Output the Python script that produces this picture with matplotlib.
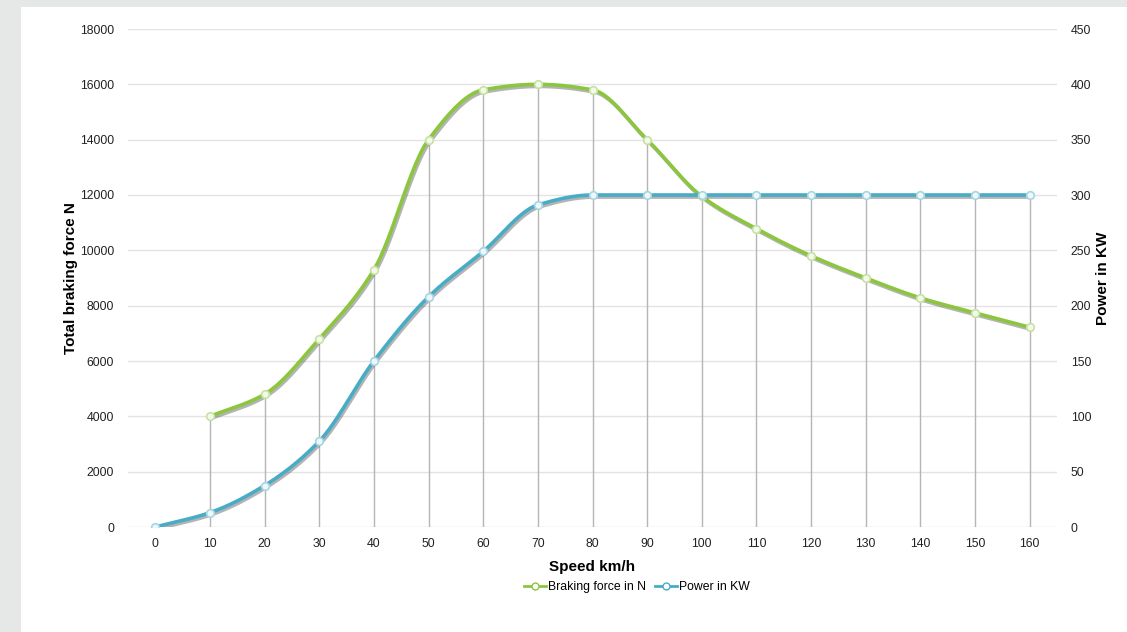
import numpy as np
import matplotlib.pyplot as plt
import matplotlib.patheffects as pe
from matplotlib.patches import Rectangle

plt.rcParams['font.family'] = ['Liberation Sans', 'DejaVu Sans']

# data
speed = [0, 10, 20, 30, 40, 50, 60, 70, 80, 90, 100, 110, 120, 130, 140, 150, 160]
force_speed = speed[1:]
force_n = [4000, 4800, 6800, 9300, 14000, 15800, 16000, 15800, 14000, 11950,
           10780, 9800, 9000, 8280, 7740, 7220]
power_kw = [0, 13, 37.5, 77.5, 150, 208, 249, 291, 300, 300, 300, 300, 300, 300,
            300, 300, 300]

green = '#8cc63e'
blue = '#48acc6'


def smooth(x, y, n=400):
    # monotone cubic (Fritsch-Carlson) for drawing the curve
    x = np.asarray(x, float)
    y = np.asarray(y, float)
    h = np.diff(x)
    d = np.diff(y) / h
    m = np.zeros_like(y)
    m[0], m[-1] = d[0], d[-1]
    for i in range(1, len(x) - 1):
        if d[i - 1] * d[i] > 0:
            w1 = 2 * h[i] + h[i - 1]
            w2 = h[i] + 2 * h[i - 1]
            m[i] = (w1 + w2) / (w1 / d[i - 1] + w2 / d[i])
    xs = np.linspace(x[0], x[-1], n)
    k = np.clip(np.searchsorted(x, xs) - 1, 0, len(x) - 2)
    t = (xs - x[k]) / h[k]
    h00 = 2 * t**3 - 3 * t**2 + 1
    h10 = t**3 - 2 * t**2 + t
    h01 = -2 * t**3 + 3 * t**2
    h11 = t**3 - t**2
    ys = h00 * y[k] + h10 * h[k] * m[k] + h01 * y[k + 1] + h11 * h[k] * m[k + 1]
    return xs, ys


fig = plt.figure(figsize=(11.27, 6.32), dpi=100)
fig.patch.set_facecolor('#e6e7e7')
fig.patches.append(Rectangle((21 / 1127, 0), 1, 1 - 7 / 632, transform=fig.transFigure,
                             facecolor='white', edgecolor='none', zorder=-10))

ax = fig.add_axes([128 / 1127, 105 / 632, 929 / 1127, 498 / 632])
ax.set_facecolor('none')
ax2 = ax.twinx()
ax2.set_facecolor('none')

scale = 18000 / 450
ax.set_xlim(-5, 165)
ax.set_ylim(0, 18000)
ax2.set_ylim(0, 450)
ax.set_yticks(np.arange(0, 18001, 2000))
ax2.set_yticks(np.arange(0, 451, 50))
ax.set_xticks(speed)
ax.grid(axis='y', color='#e3e3e3', linewidth=1)
ax.set_axisbelow(True)

for a in (ax, ax2):
    for s in a.spines.values():
        s.set_visible(False)
ax.tick_params(axis='y', length=0, pad=10, labelsize=8.8, labelcolor='#222222')
ax.tick_params(axis='x', length=0, pad=8, labelsize=8.8, labelcolor='#222222')
ax2.tick_params(axis='y', length=0, pad=10, labelsize=8.8, labelcolor='#222222')

# drop lines to the higher of the two points
force_full = [0] + force_n
tops = [max(f, p * scale) for f, p in zip(force_full, power_kw)]
ax.vlines(speed[1:], 0, tops[1:], color='#b5b5b5', linewidth=1, zorder=1)

shadow = [pe.SimpleLineShadow(offset=(1, -1.5), shadow_color='#444444', alpha=0.4),
          pe.Normal()]

xs, ys = smooth(force_speed, force_n)
ax.plot(xs, ys, color=green, linewidth=2.6, path_effects=shadow, zorder=3)
ax.plot(force_speed, force_n, 'o', ms=5.5, mfc='#f4f9ee', mec='#c6e2a0', mew=1.2, zorder=4)

xs, ys = smooth(speed, power_kw)
ax.plot(xs, ys * scale, color=blue, linewidth=2.6, path_effects=shadow, zorder=3)
ax.plot(speed, np.array(power_kw) * scale, 'o', ms=5.5, mfc='#eef7fa', mec='#a6d6e4',
        mew=1.2, zorder=4)

ax.set_xlabel('Speed km/h', fontsize=11, fontweight='bold', labelpad=7)
ax.set_ylabel('Total braking force N', fontsize=11, fontweight='bold', labelpad=1)
ax2.set_ylabel('Power in KW', fontsize=11, fontweight='bold', labelpad=3)

h1, = ax.plot([], [], '-o', color=green, lw=2, ms=5, mfc='white', mec=green, mew=1)
h2, = ax.plot([], [], '-o', color=blue, lw=2, ms=5, mfc='white', mec=blue, mew=1)
fig.legend([h1, h2], ['Braking force in N', 'Power in KW'], loc='center',
           bbox_to_anchor=(637 / 1127, 1 - 587 / 632), ncol=2, frameon=False,
           fontsize=8.8, handlelength=1.8, handletextpad=0.1, columnspacing=0.8)

fig.savefig('out.png', dpi=100)
